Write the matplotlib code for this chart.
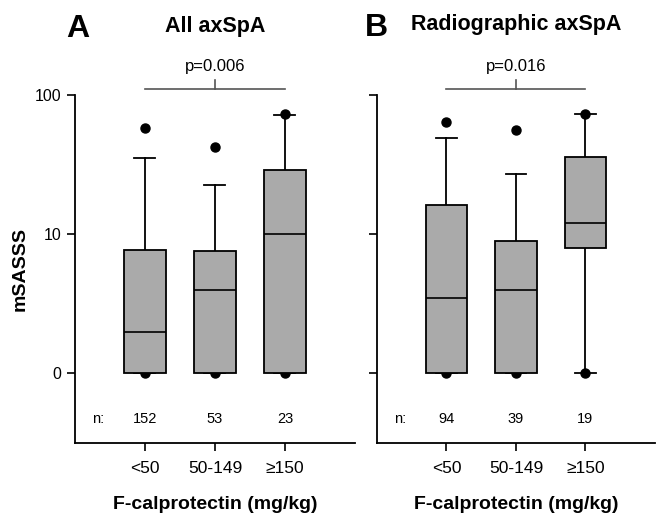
import numpy as np
import matplotlib
matplotlib.use("Agg")
import matplotlib.pyplot as plt
from matplotlib.ticker import NullLocator, FixedLocator, FixedFormatter
import matplotlib.transforms as mtransforms

plt.rcParams['font.family'] = ['Liberation Sans', 'DejaVu Sans']

# categories and counts
groups = ["<50", "50-149", "\u2265150"]
n_all = [152, 53, 23]
n_rad = [94, 39, 19]

# box statistics (mSASSS)
all_q1 = [0, 0, 0]
all_med = [3.0, 6.0, 10.0]
all_q3 = [8.9, 8.8, 29.0]
all_lo = [0, 0, 0]
all_hi = [35.0, 22.5, 72.0]
all_out = [[0, 57.5], [0, 42.0], [0, 73.0]]

rad_q1 = [0, 0, 9.0]
rad_med = [5.4, 6.0, 12.0]
rad_q3 = [16.2, 9.5, 36.0]
rad_lo = [0, 0, 0]
rad_hi = [49.5, 27.0, 73.0]
rad_out = [[0, 64.0], [0, 56.0], [0, 73.0]]

titles = ["All axSpA", "Radiographic axSpA"]
letters = ["A", "B"]
pvals = ["p=0.006", "p=0.016"]


def draw_panel(ax, q1, med, q3, lo, hi, out, counts, pval, show_labels):
    stats = []
    for i in range(len(groups)):
        stats.append(dict(q1=q1[i], med=med[i], q3=q3[i], whislo=lo[i],
                          whishi=hi[i], fliers=out[i], label=groups[i]))
    pos = np.arange(1, len(groups) + 1)
    ax.bxp(stats, positions=pos, widths=0.6, patch_artist=True,
           showfliers=True,
           boxprops=dict(facecolor="#aaaaaa", edgecolor="black", linewidth=1.3, zorder=3),
           medianprops=dict(color="black", linewidth=1.2, zorder=4),
           whiskerprops=dict(color="black", linewidth=1.3, zorder=2),
           capprops=dict(color="black", linewidth=1.3, zorder=2),
           capwidths=0.3,
           flierprops=dict(marker="o", markerfacecolor="black", markeredgecolor="black",
                           markersize=6.5, linestyle="none", zorder=2.5))

    ax.set_yscale("symlog", linthresh=10, linscale=0.9)
    ax.set_ylim(-5, 100)
    ax.set_xlim(0, 4)
    ax.yaxis.set_major_locator(FixedLocator([0, 10, 100]))
    ax.yaxis.set_major_formatter(FixedFormatter(["0", "10", "100"]))
    ax.yaxis.set_minor_locator(NullLocator())
    ax.set_xticks(pos)
    ax.set_xticklabels(groups, fontsize=12.5)

    for s in ["top", "right"]:
        ax.spines[s].set_visible(False)
    for s in ["left", "bottom"]:
        ax.spines[s].set_linewidth(1.3)
    ax.tick_params(axis="y", length=6, width=1.2, labelsize=11.5, pad=4,
                   labelleft=show_labels)
    ax.tick_params(axis="x", length=6, width=1.2, pad=7)

    ax.set_xlabel("F-calprotectin (mg/kg)", fontsize=14, fontweight="bold", labelpad=14)

    # counts row
    trans = mtransforms.blended_transform_factory(ax.transData, ax.transAxes)
    ax.text(0.33, 0.069, "n:", transform=trans, ha="center", va="center", fontsize=10.5)
    for x, c in zip(pos, counts):
        ax.text(x, 0.069, str(c), transform=trans, ha="center", va="center", fontsize=10.5)

    # significance bracket
    ax.plot([pos[0], pos[-1]], [1.017, 1.017], transform=trans, color="#555555",
            linewidth=1.2, clip_on=False)
    ax.plot([pos[1], pos[1]], [1.017, 1.043], transform=trans, color="#555555",
            linewidth=1.2, clip_on=False)
    ax.text(pos[1], 1.069, pval, transform=trans, ha="center", va="baseline", fontsize=12)


def main():
    fig = plt.figure(figsize=(6.69, 5.19), dpi=100)
    axA = fig.add_axes([0.1121, 0.1464, 0.4185, 0.6705])
    axB = fig.add_axes([0.5635, 0.1464, 0.4155, 0.6705])

    draw_panel(axA, all_q1, all_med, all_q3, all_lo, all_hi, all_out, n_all, pvals[0], True)
    draw_panel(axB, rad_q1, rad_med, rad_q3, rad_lo, rad_hi, rad_out, n_rad, pvals[1], False)

    axA.set_ylabel("mSASSS", fontsize=14, fontweight="bold")
    axA.yaxis.set_label_coords(-0.165, 0.5)

    axA.text(0.5, 1.181, titles[0], transform=axA.transAxes, ha="center", va="baseline",
             fontsize=15.5, fontweight="bold")
    axB.text(0.5, 1.187, titles[1], transform=axB.transAxes, ha="center", va="baseline",
             fontsize=15.5, fontweight="bold")
    fig.text(66 / 669, 1 - 37 / 519, letters[0], ha="left", va="baseline",
             fontsize=23, fontweight="bold")
    fig.text(365 / 669, 1 - 36 / 519, letters[1], ha="left", va="baseline",
             fontsize=23, fontweight="bold")

    fig.savefig("out.png", dpi=100)


if __name__ == "__main__":
    main()
